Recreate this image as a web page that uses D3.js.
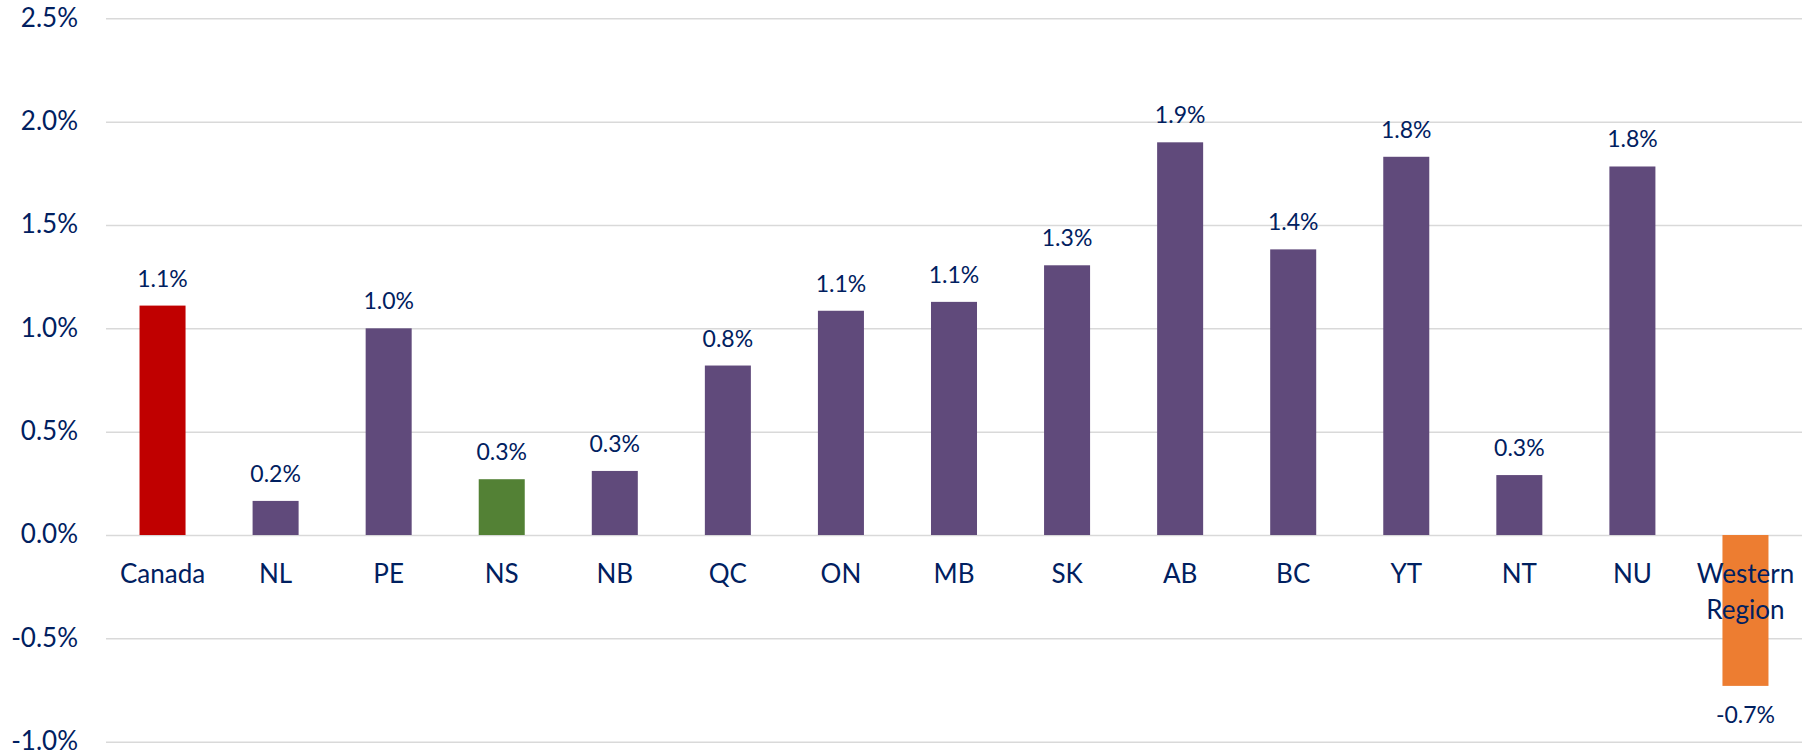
<!DOCTYPE html>
<html>
<head>
<meta charset="utf-8">
<script src="https://cdn.jsdelivr.net/npm/d3@7"></script>
<style>
  body { margin: 0; background: #fff; }
  text { font-family: Lato, "Noto Sans", sans-serif; fill: #002060; }
  .grid-line .domain { display: none; }
  .grid-line .tick line { stroke: #D9D9D9; stroke-width: 1.5; }
</style>
</head>
<body>
<svg width="1813" height="755"></svg>
<script>
const categories = ['Canada', 'NL', 'PE', 'NS', 'NB', 'QC', 'ON', 'MB', 'SK', 'AB', 'BC', 'YT', 'NT', 'NU', 'Western Region'];
const values = [1.11, 0.165, 1.0, 0.27, 0.31, 0.82, 1.085, 1.128, 1.305, 1.9, 1.382, 1.83, 0.29, 1.783, -0.73];
const labels = ['1.1%', '0.2%', '1.0%', '0.3%', '0.3%', '0.8%', '1.1%', '1.1%', '1.3%', '1.9%', '1.4%', '1.8%', '0.3%', '1.8%', '-0.7%'];
const colors = ['#C00000', '#604A7B', '#604A7B', '#538135', '#604A7B', '#604A7B', '#604A7B', '#604A7B', '#604A7B', '#604A7B', '#604A7B', '#604A7B', '#604A7B', '#604A7B', '#ED7D31'];
const yTicks = [-1.0, -0.5, 0, 0.5, 1.0, 1.5, 2.0, 2.5];

const data = categories.map((c, i) => ({ name: c, value: values[i], label: labels[i], color: colors[i] }));

const svg = d3.select('svg');
const margin = { top: 18.3, right: 11, bottom: 13.3, left: 106 };
const width = +svg.attr('width') - margin.left - margin.right;
const height = +svg.attr('height') - margin.top - margin.bottom;
const g = svg.append('g').attr('transform', `translate(${margin.left},${margin.top})`);

const x = d3.scaleBand()
    .range([0, width])
    .paddingInner(0.593)
    .paddingOuter(0.2965)
    .domain(categories);

const y = d3.scaleLinear()
    .range([height, 0])
    .domain([-1, 2.5]);

// siatka + etykiety osi Y
g.append('g')
    .attr('class', 'grid-line')
    .call(d3.axisLeft(y)
        .tickValues(yTicks)
        .tickSize(-width)
        .tickPadding(28)
        .tickFormat(d => d.toFixed(1) + '%'))
    .selectAll('text')
    .style('font-size', '26px')
    .attr('dy', '0.3em');

// słupki
g.selectAll('.bar')
    .data(data)
    .enter().append('rect')
    .attr('class', 'bar')
    .attr('x', d => x(d.name))
    .attr('y', d => y(Math.max(0, d.value)))
    .attr('width', x.bandwidth())
    .attr('height', d => Math.abs(y(d.value) - y(0)))
    .attr('fill', d => d.color);

// etykiety wartości
g.selectAll('.value-label')
    .data(data)
    .enter().append('text')
    .attr('class', 'value-label')
    .attr('x', d => x(d.name) + x.bandwidth() / 2)
    .attr('y', d => d.value >= 0 ? y(d.value) - 19 : y(d.value) + 37)
    .attr('text-anchor', 'middle')
    .style('font-size', '23px')
    .text(d => d.label);

// etykiety kategorii (pod osią zero)
const catLabels = g.selectAll('.cat-label')
    .data(data)
    .enter().append('text')
    .attr('class', 'cat-label')
    .attr('x', d => x(d.name) + x.bandwidth() / 2)
    .attr('y', y(0) + 48)
    .attr('text-anchor', 'middle')
    .style('font-size', '26px');

catLabels.each(function(d) {
    const words = d.name.split(' ');
    const t = d3.select(this);
    words.forEach((w, i) => {
        t.append('tspan')
            .attr('x', x(d.name) + x.bandwidth() / 2)
            .attr('dy', i === 0 ? 0 : 35.5)
            .text(w);
    });
});
</script>
</body>
</html>
